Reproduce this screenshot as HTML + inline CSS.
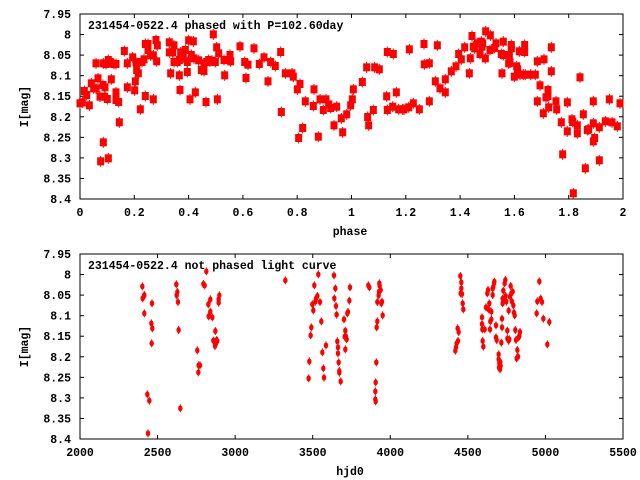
<!DOCTYPE html>
<html><head><meta charset="utf-8"><style>
html,body{margin:0;padding:0;background:#fff;}
svg{display:block;}
text{font-family:"Liberation Mono",monospace;font-weight:bold;font-size:11.5px;fill:#000;}
</style></head><body>
<svg id="s" width="640" height="480" xmlns="http://www.w3.org/2000/svg"></svg>
<script>
const S=document.getElementById('s');let h='';
const L=80,R=623;
function frame(top,bot,xt,yt,title,xl){
 h+=`<rect x="${L}" y="${top}" width="${R-L}" height="${bot-top}" fill="none" stroke="#000" stroke-width="1"/>`;
 xt.forEach((t,i)=>{const x=L+(R-L)*i/(xt.length-1);
  h+=`<line x1="${x}" y1="${bot}" x2="${x}" y2="${bot-4}" stroke="#000"/><line x1="${x}" y1="${top}" x2="${x}" y2="${top+4}" stroke="#000"/>`;
  h+=`<text x="${x}" y="${bot+17}" text-anchor="middle">${t}</text>`;});
 yt.forEach((t,i)=>{const y=top+(bot-top)*i/(yt.length-1);
  h+=`<line x1="${L}" y1="${y}" x2="${L+4}" y2="${y}" stroke="#000"/><line x1="${R}" y1="${y}" x2="${R-4}" y2="${y}" stroke="#000"/>`;
  h+=`<text x="71" y="${y+4}" text-anchor="end">${t}</text>`;});
 h+=`<text x="88" y="${top+15}">${title}</text>`;
 h+=`<text x="350" y="${bot+36}" text-anchor="middle">${xl}</text>`;
 const cy=(top+bot)/2;
 h+=`<text transform="translate(28,${cy}) rotate(-90)" text-anchor="middle">I[mag]</text>`;
}
const yt=['7.95','8','8.05','8.1','8.15','8.2','8.25','8.3','8.35','8.4'];
frame(14,199,['0','0.2','0.4','0.6','0.8','1','1.2','1.4','1.6','1.8','2'],yt,'231454-0522.4 phased with P=102.60day','phase');
frame(254,439,['2000','2500','3000','3500','4000','4500','5000','5500'],yt,'231454-0522.4 not phased light curve','hjd0');
const z1=[[240,310],[247,307],[253,273],[260,285],[268,316],[274,250],[281,265],[288,190],[288,265],[294,235],[300,290],[302,484],[309,255],[310,190],[310,427],[314,290],[315,262],[318,192],[322,297],[325,180],[325,475],[330,186],[334,238],[342,192],[348,192],[348,277],[348,300],[356,306],[358,367],[373,153],[382,190],[382,262],[398,172],[404,271],[406,244],[408,186],[410,210],[415,220],[421,328],[426,186],[432,178],[436,132],[436,288],[444,132],[444,150],[452,166],[460,298],[460,166],[468,120],[470,184],[472,136],[508,127],[508,157],[512,220],[518,157],[522,186],[522,136],[532,186],[538,180],[538,226],[540,270],[542,157],[546,165],[550,172],[556,150],[562,216],[562,186],[566,121],[570,298],[574,165],[580,124],[582,175],[586,277],[596,181],[604,210],[612,190],[612,213],[618,306],[620,186],[626,180],[630,185],[636,182],[640,103],[646,186],[650,142],[652,298],[656,160],[672,180],[674,226],[690,165],[692,184],[720,139],[734,186],[738,234],[744,194],[762,145],[778,192],[792,172],[804,244],[812,186],[826,198],[842,156],[844,336],[856,220],[876,220],[880,230],[892,268],[896,414],[900,252],[908,384],[916,304],[940,318],[942,268],[955,410]];
const z3=[[0,298],[10,330],[18,298],[26,313],[32,324],[42,376],[50,320],[64,355],[68,397],[80,343],[92,316],[97,298],[100,268],[127,246],[140,202],[143,351],[146,376],[160,330],[164,202],[178,208],[200,289],[202,330],[202,156],[218,320],[220,162],[229,277],[236,328],[248,328],[252,328],[266,322],[268,148],[280,310],[298,328],[312,132],[313,193],[328,190],[328,304],[346,244],[352,136],[360,265],[376,238],[376,277],[394,214],[408,199],[416,162],[424,178],[434,142],[448,220],[451,175],[456,108],[460,140],[464,145],[472,130],[480,162],[484,125],[486,140],[488,130],[496,175],[497,94],[510,150],[511,106],[524,144],[528,130],[544,162],[546,220],[550,125],[550,165],[566,190],[568,165],[570,188],[574,135],[574,145],[583,230],[590,199],[593,208],[598,154],[600,224],[610,224],[614,156],[614,135],[616,224],[632,224],[646,224],[652,184],[652,304],[660,256],[670,340],[672,178],[678,292],[684,270],[684,288],[686,322],[694,142],[694,214],[708,304],[710,328],[724,367],[728,463],[742,394],[742,307],[756,358],[758,366],[760,580],[772,376],[772,400],[780,232],[790,343],[796,505],[802,390],[806,388],[820,304],[820,370],[820,424],[824,414],[838,382],[838,481],[856,364],[868,298],[876,367],[892,379],[900,310]];
function sq(x,y){h+=`<line x1="${x}" y1="${y-5.5}" x2="${x}" y2="${y+5.5}" stroke="#f00" stroke-width="1"/><rect x="${x-3.5}" y="${y-4}" width="7" height="8" fill="#f00"/>`;}
z1.forEach(p=>sq(p[0]/3,p[1]/3));
z3.forEach(p=>sq(p[0]/3+320,p[1]/3));
const z2=[[427,139],[428,175],[432,168],[433,165],[433,220],[442,463],[448,482],[444,580],[454,250],[456,190],[457,265],[455,310],[529,133],[530,166],[532,156],[534,186],[536,270],[541,505],[610,132],[614,136],[619,94],[592,331],[595,397],[596,376],[600,376],[625,193],[626,229],[631,178],[631,215],[637,232],[646,273],[640,302],[644,305],[648,310],[650,300],[645,318],[652,303],[656,178],[656,188],[658,166],[856,121],[926,415],[928,364],[932,286],[934,262],[937,193],[940,211],[943,136],[946,185],[948,176],[952,168],[955,103]];
const z4=[[0,186],[4,244],[7,337],[10,385],[12,413],[18,316],[42,106],[43,175],[46,145],[48,198],[50,224],[52,304],[54,340],[54,322],[56,367],[58,393],[58,398],[62,424],[72,238],[74,290],[76,272],[76,328],[78,290],[80,298],[82,220],[84,216],[88,182],[90,142],[145,136],[148,142],[166,454],[167,427],[166,478],[167,484],[169,367],[170,262],[172,244],[172,186],[176,166],[177,155],[178,130],[179,137],[182,150],[184,190],[186,185],[188,226],[406,332],[408,322],[410,310],[413,265],[414,303],[416,276],[421,108],[422,160],[424,127],[424,145],[426,162],[428,190],[430,208],[486,232],[486,252],[487,268],[488,303],[490,320],[494,268],[498,202],[502,160],[504,150],[506,208],[508,190],[510,268],[511,244],[514,238],[514,215],[518,165],[518,146],[520,140],[522,130],[523,125],[528,292],[528,256],[530,300],[536,343],[536,358],[537,382],[538,370],[540,388],[541,366],[542,378],[544,308],[546,236],[546,262],[548,190],[548,176],[550,152],[552,180],[554,130],[556,120],[557,168],[559,185],[562,272],[562,296],[566,302],[566,212],[568,298],[570,170],[572,138],[574,160],[576,185],[578,155],[580,196],[582,218],[584,226],[586,270],[588,300],[590,355],[592,330],[594,350],[596,292],[598,288],[600,276],[650,220],[652,184],[658,124],[662,176],[666,186],[670,236],[682,313],[688,246]];
function el(x,y){h+=`<line x1="${x}" y1="${y-4}" x2="${x}" y2="${y+4}" stroke="#f00"/><ellipse cx="${x}" cy="${y}" rx="2.2" ry="3" fill="#f00"/>`;}
z2.forEach(p=>el(p[0]/3,p[1]/3+240));
z4.forEach(p=>el(p[0]/3+320,p[1]/3+240));
S.innerHTML=h;
</script>
</body></html>
